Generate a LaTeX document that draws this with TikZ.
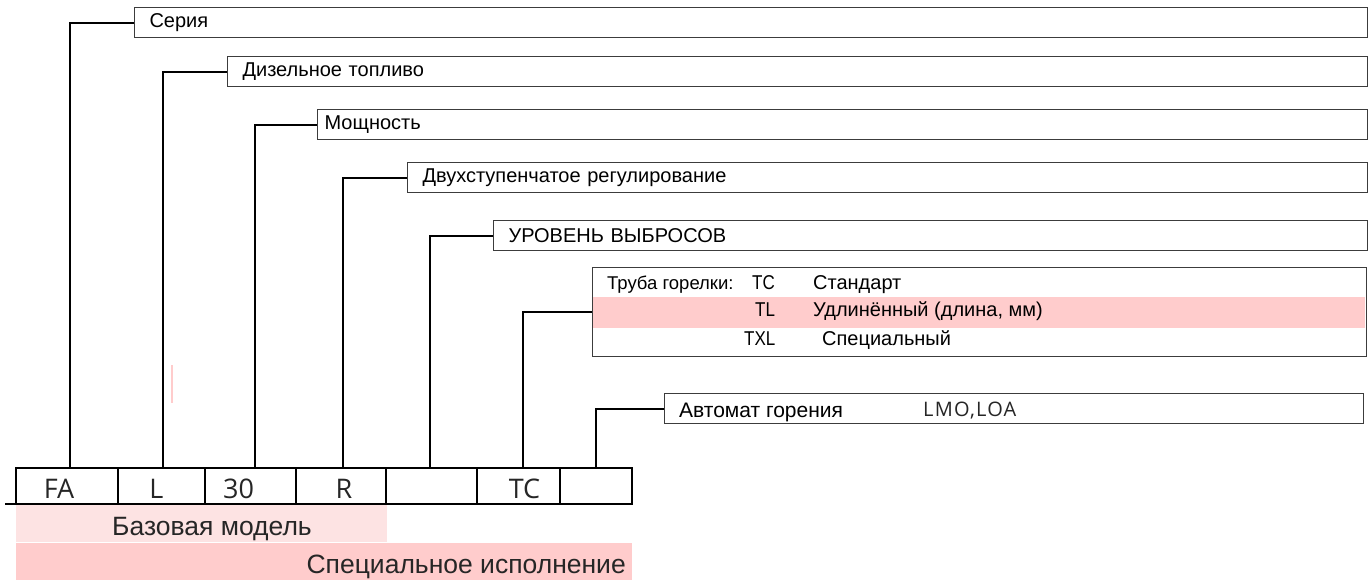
\documentclass[tikz,border=0pt]{standalone}
\usepackage{fontspec}
\setmainfont{Liberation Sans}
\newfontfamily\narrowfont[FakeStretch=0.85]{Liberation Sans}
\newfontfamily\codefont{Open Sans}
\newfontfamily\codewide[LetterSpace=6]{Open Sans}
\usetikzlibrary{positioning}
\definecolor{frame}{HTML}{3C3C3C}
\definecolor{basepink}{HTML}{FDE3E3}
\definecolor{optpink}{HTML}{FFCCCC}
\tikzset{
  lbox/.style={draw=frame,line width=1.1pt,anchor=north west,minimum height=30pt,
               inner xsep=15pt,inner ysep=0pt,align=left,font=\fontsize{20}{22}\selectfont},
  cell/.style={draw=black,line width=1.4pt,anchor=north west,minimum height=36pt,
               inner sep=0pt,outer sep=0pt},
  code/.style={anchor=base,inner sep=0pt,text=black!85,font=\codefont\fontsize{27}{29}\selectfont},
  conn/.style={draw=black,line width=2pt},
  band/.style={anchor=north west,inner sep=0pt,minimum height=37pt},
  bandtxt/.style={anchor=base west,inner sep=0pt,text=black!85,font=\fontsize{26.5}{28}\selectfont},
  tubetxt/.style={anchor=base west,inner sep=0pt,font=\fontsize{20}{22}\selectfont},
  tubecode/.style={anchor=base west,inner sep=0pt,font=\narrowfont\fontsize{20}{22}\selectfont}
}

\begin{document}
\begin{tikzpicture}[x=1pt,y=-1pt]
  \useasboundingbox (0,0) rectangle (1371,580);

  % option boxes
  \node[lbox,text width=1203pt] (serie) at (134,7) {Серия};
  \node[lbox,text width=1110pt] (fuel) at (227,56) {Дизельное топливо};
  \node[lbox,text width=1036pt,inner xsep=7pt] (power) at (317,109) {Мощность};
  \node[lbox,text width=930pt] (stage) at (407,162) {Двухступенчатое регулирование};
  \node[lbox,text width=844pt] (emis) at (493,220) {УРОВЕНЬ ВЫБРОСОВ};

  % burner tube table
  \node[band,fill=optpink,minimum width=772pt,minimum height=31pt] (tlrow) at (593,297) {};
  \node[draw=frame,line width=1.1pt,anchor=north west,minimum width=774pt,
        minimum height=89pt,inner sep=0pt] (tube) at (592,267) {};
  \node[tubetxt,font=\fontsize{18.5}{20}\selectfont] (tubelbl) at (607,289) {Труба горелки:};
  \node[tubecode] (tccode) at (752,289) {TC};
  \node[tubetxt] (tcname) at (813,289) {Стандарт};
  \node[tubecode] (tlcode) at (755,316) {TL};
  \node[tubetxt] (tlname) at (813,316) {Удлинённый (длина, мм)};
  \node[tubecode] (txlcode) at (744,345) {TXL};
  \node[tubetxt] (txlname) at (822,345) {Специальный};

  % control box
  \node[draw=frame,line width=1.1pt,anchor=north west,minimum width=699pt,
        minimum height=30pt,inner sep=0pt] (ctrl) at (664,393) {};
  \node[tubetxt,font=\fontsize{21}{23}\selectfont] (ctrllbl) at (679,417) {Автомат горения};
  \node[tubetxt,text=black!85,font=\codewide\fontsize{20}{22}\selectfont] (ctrlval) at (923,416) {LMO,LOA};

  % code cells
  \node[cell,minimum width=102pt] (fa) at (16,468) {};
  \node[cell,minimum width=87pt] (l) at (118,468) {};
  \node[cell,minimum width=91pt] (pw) at (205,468) {};
  \node[cell,minimum width=90pt] (r) at (296,468) {};
  \node[cell,minimum width=91pt] (em) at (386,468) {};
  \node[cell,minimum width=83pt] (tc) at (477,468) {};
  \node[cell,minimum width=72pt] (bc) at (560,468) {};
  \node[code] (fatxt) at ([xshift=-8pt,yshift=-12pt]fa.center) {FA};
  \node[code] (ltxt) at ([xshift=-5pt,yshift=-12pt]l.center) {L};
  \node[code] (pwtxt) at ([xshift=-12pt,yshift=-12pt]pw.center) {30};
  \node[code] (rtxt) at ([xshift=3pt,yshift=-12pt]r.center) {R};
  \node[code] (tctxt) at ([xshift=6pt,yshift=-12pt]tc.center) {TC};
  \coordinate (lead) at (5,504);
  \draw[black,line width=1.4pt] (lead) -- (fa.south west);

  % bands
  \node[band,fill=basepink,minimum width=371pt] (basic) at (16,505) {};
  \node[band,fill=optpink,minimum width=616pt,minimum height=37pt] (special) at (16,543) {};
  \node[bandtxt] (basictxt) at (112,535) {Базовая модель};
  \node[bandtxt,anchor=base east] (specialtxt) at (626,573) {Специальное исполнение};

  % stray mark
  \draw[optpink,line width=1.3pt] (172,365) -- (172,403);

  % connectors
  \draw[conn] ([xshift=3pt]fa.north) |- (serie.west);
  \draw[conn] ([xshift=1pt]l.north) |- (fuel.west);
  \draw[conn] ([xshift=4pt]pw.north) |- (power.west);
  \draw[conn] ([xshift=2pt]r.north) |- (stage.west);
  \draw[conn] ([xshift=-2pt]em.north) |- (emis.west);
  \draw[conn] ([xshift=4pt]tc.north) |- (tube.west);
  \draw[conn] (bc.north) |- (ctrl.west);
\end{tikzpicture}
\end{document}
